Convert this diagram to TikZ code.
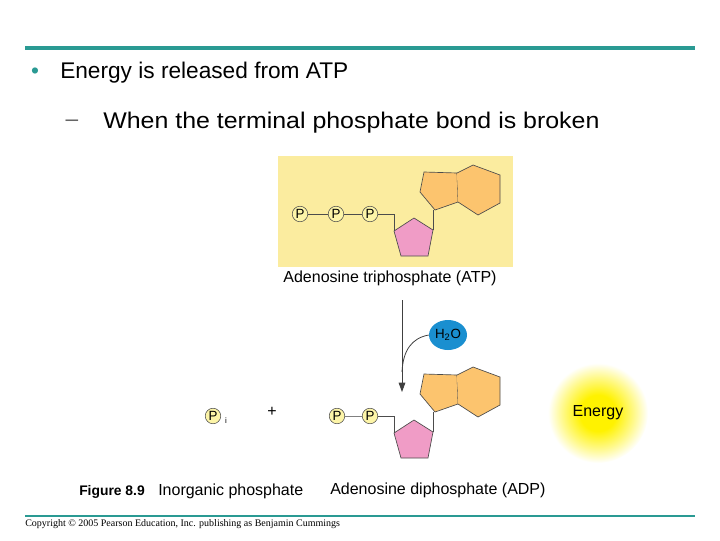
\documentclass[tikz,border=0pt]{standalone}
\usepackage{fontspec}
\setmainfont{Liberation Sans}
\newfontfamily\serifx{Liberation Serif}
\usetikzlibrary{arrows.meta,shapes.geometric}
\definecolor{teal1}{HTML}{2A9A93}
\definecolor{atpbg}{HTML}{FBEC9F}
\definecolor{pcol}{HTML}{FDF5A8}
\definecolor{orng}{HTML}{FCC46E}
\definecolor{pink1}{HTML}{F09CC6}
\definecolor{h2o}{HTML}{1A8FD0}
\definecolor{glow}{HTML}{FFF200}
\pgfdeclareradialshading{glowshade}{\pgfpoint{0bp}{0bp}}{color(0bp)=(glow); color(9bp)=(glow); color(18bp)=(glow!45); color(25bp)=(white); color(50bp)=(white)}
\begin{document}
\begin{tikzpicture}[x=0.75pt,y=-0.75pt,
  ph/.style={circle,draw=black!70,fill=pcol,inner sep=0pt,minimum size=15.5*0.75pt,font=\fontsize{10}{10}\selectfont},
  ring/.style={draw=black!70,line width=0.5pt},
  lbl/.style={font=\fontsize{12}{14}\selectfont,inner sep=0pt}]
\useasboundingbox (0,0) rectangle (720,540);
\fill[white] (0,0) rectangle (720,540);
\draw[teal1,line width=3pt] (25,48) -- (695,48);
\draw[teal1,line width=2.2pt] (25,516) -- (695,516);
\node[inner sep=0pt,font=\fontsize{17}{18}\selectfont,text=teal1] (b1) at (35,73) {\textbullet};
\node[anchor=west,inner sep=0pt,font=\fontsize{17}{18}\selectfont] (t1) at (60,73) {Energy is released from ATP};
\node[inner sep=0pt,font=\fontsize{17}{18}\selectfont,text=black!60] (b2) at (72,123) {–};
\node[anchor=west,inner sep=0pt,font=\fontsize{17}{18}\selectfont,xscale=1.1] (t2) at (103,123) {When the terminal phosphate bond is broken};
% ATP
\fill[atpbg] (278,156) rectangle (513,267);
\foreach \dy in {0,202}{
 \begin{scope}[yshift=-\dy*0.75pt]
 \draw[ring,fill=orng] (424,172)--(457,173)--(458,202)--(435,210)--(420,192)--cycle;
 \draw[ring,fill=orng] (457,173)--(473,165)--(500,175)--(500,203)--(478,215)--(458,202);
 \draw[ring,fill=pink1] (414,218)--(433,230)--(428,256)--(401,256)--(394,231)--cycle;
 \draw[black!70] (433,230)--(433,210);
 \draw[black!70] (394,231)--(394,214)--(378,214);
 \end{scope}}
\node[ph] (p1) at (300,214) {P};
\node[ph] (p2) at (336,214) {P};
\node[ph] (p3) at (370,214) {P};
\draw[black!70] (p1)--(p2) (p2)--(p3);
\node[lbl] (atp) at (390,278) {Adenosine triphosphate (ATP)};
% ADP
\node[ph] (q2) at (337,416) {P};
\node[ph] (q3) at (370,416) {P};
\draw[black!50] (q2)--(q3);
\node[ph] (pi) at (213,416) {P};
\node[font=\fontsize{6}{6}\selectfont,inner sep=0pt] (isub) at (226,421) {i};
\node[lbl] (plus) at (272,412) {+};
% arrow
\coordinate (a0) at (402,300);
\coordinate (a1) at (402,392);
\draw[black!75,line width=0.6pt,-{Triangle[length=7pt,width=5pt]}] (a0)--(a1);
\node[ellipse,fill=h2o,minimum width=38*0.75pt,minimum height=30*0.75pt,inner sep=0pt,font=\fontsize{10}{10}\selectfont] (w) at (448,335) {H\textsubscript{2}O};
\draw[black!75,line width=0.6pt] (w.west) .. controls (412,338) and (403,350) .. (402,372);
% Energy
\shade[shading=glowshade] (598,413) circle[radius=50];
\node[lbl] (en) at (598,413) {Energy};
% captions
\node[anchor=west,inner sep=0pt,font=\bfseries\fontsize{10.4}{11}\selectfont] (fig) at (79,492) {Figure 8.9};
\node[lbl,anchor=west] (ip) at (158,491) {Inorganic phosphate};
\node[lbl,anchor=west] (adp) at (330,490) {Adenosine diphosphate (ADP)};
\node[anchor=west,inner sep=0pt,font=\serifx\fontsize{7.5}{8}\selectfont] (cp) at (25,524) {Copyright © 2005 Pearson Education, Inc. publishing as Benjamin Cummings};
\end{tikzpicture}
\end{document}
